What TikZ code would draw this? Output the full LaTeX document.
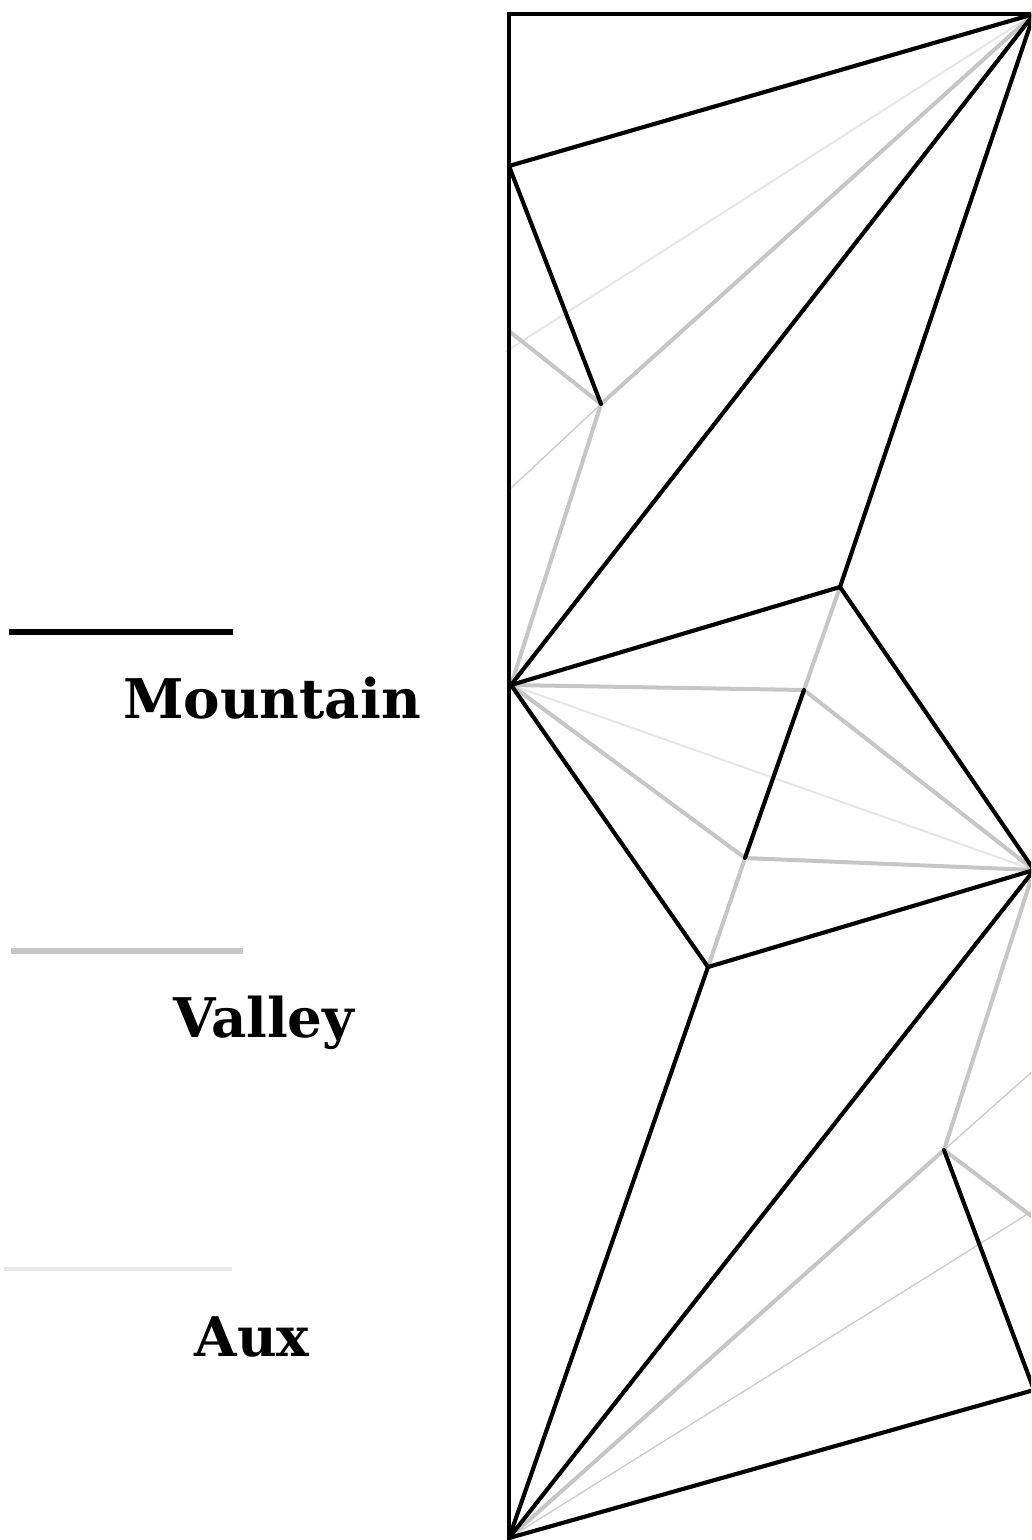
\documentclass[tikz,border=0pt]{standalone}
\usepackage{fontspec}
\setmainfont{DejaVu Serif}
\tikzset{
  mountain/.style={draw=black,line width=3.1pt,line cap=round,line join=round},
  borderline/.style={draw=black,line width=3.4pt,line cap=butt,line join=miter},
  valley/.style={draw=valleygray,line width=3pt,line cap=round,line join=round},
  auxline/.style={draw=auxgray,line width=1.5pt},
  faintline/.style={draw=faintgray,line width=1pt},
  legendtext/.style={font=\bfseries\fontsize{41pt}{48pt}\selectfont,text=black,inner sep=0pt,anchor=base},
}
\definecolor{valleygray}{HTML}{C6C6C6}
\definecolor{auxgray}{HTML}{E6E6E6}
\definecolor{faintgray}{HTML}{CCCCCC}
\begin{document}
\begin{tikzpicture}[x=0.75pt,y=-0.75pt]
\useasboundingbox (0,0) rectangle (1031,1540);
\clip (0,0) rectangle (1031,1540);
\fill[white] (0,0) rectangle (1031,1540);
% crease vertices
\coordinate (TL) at (509,14);
\coordinate (TR) at (1034,14);
\coordinate (BL) at (509,1540);
\coordinate (A) at (509,166);
\coordinate (B) at (601,404);
\coordinate (C) at (511,685);
\coordinate (D) at (840,587);
\coordinate (E) at (804,690);
\coordinate (F) at (745,858);
\coordinate (G) at (708,967);
\coordinate (H) at (1034,870);
\coordinate (I) at (944,1150);
\coordinate (J) at (1034,1390);
\coordinate (K) at (509,1538);
\coordinate (L1) at (505,352);
\coordinate (L2) at (509,490);
\coordinate (L3) at (509,331);
\coordinate (R1) at (1034,1070);
\coordinate (R2) at (1034,1210);
\coordinate (R3) at (1034,1218);
% aux
\draw[auxline] (TR) -- (L1);
\draw[auxline] (C) -- (H);
\draw[faintline] (B) -- (L2);
\draw[faintline] (I) -- (R1);
\draw[faintline] (K) -- (R2);
% valley
\draw[valley] (TR) -- (B) -- (C);
\draw[valley] (L3) -- (B);
\draw[valley] (D) -- (E) -- (C);
\draw[valley] (E) -- (H);
\draw[valley] (C) -- (F) -- (H);
\draw[valley] (F) -- (G);
\draw[valley] (H) -- (I) -- (K);
\draw[valley] (I) -- (R3);
% mountain
\draw[borderline] (BL) -- (TL) -- (TR);
\draw[mountain] (TR) -- (A) -- (B);
\draw[mountain] (TR) -- (C);
\draw[mountain] (TR) -- (D) -- (C);
\draw[mountain] (D) -- (H) -- (G) -- (C);
\draw[mountain] (E) -- (F);
\draw[mountain] (G) -- (K);
\draw[mountain] (H) -- (K);
\draw[mountain] (I) -- (J) -- (K);
% legend
\coordinate (m1) at (9,632); \coordinate (m2) at (233,632);
\coordinate (v1) at (11,951); \coordinate (v2) at (243,951);
\coordinate (a1) at (4,1269); \coordinate (a2) at (232,1269);
\draw[black,line width=5.2pt] (m1) -- (m2);
\draw[valleygray,line width=5.2pt] (v1) -- (v2);
\draw[auxgray,line width=3pt] (a1) -- (a2);
\node[legendtext] (tm) at (272,718) {Mountain};
\node[legendtext] (tv) at (264,1037) {Valley};
\node[legendtext] (ta) at (252,1356) {Aux};
\end{tikzpicture}
\end{document}
